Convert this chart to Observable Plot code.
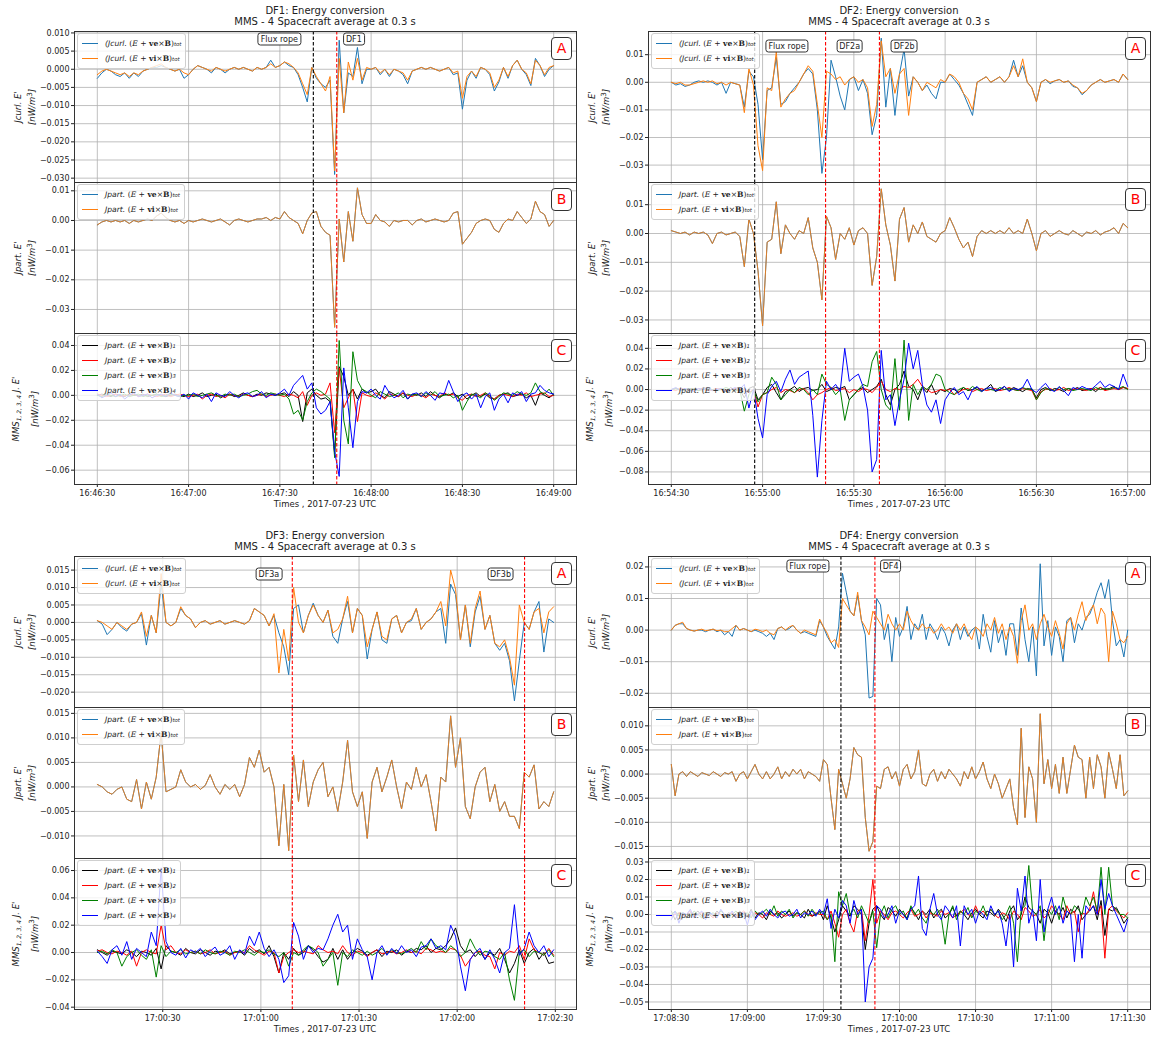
<!DOCTYPE html>
<html><head><meta charset="utf-8">
<script src="https://cdn.jsdelivr.net/npm/d3@7"></script>
<script src="https://cdn.jsdelivr.net/npm/@observablehq/plot@0.6"></script>
<style>
body{margin:0;background:#fff;}
#fig{position:relative;width:1152px;height:1038px;overflow:hidden;font-family:"DejaVu Sans",sans-serif;color:#222;background:#fff;}
.ttl{position:absolute;text-align:center;font-size:10px;line-height:11px;white-space:nowrap;transform:translateX(-50%);}
.xl{position:absolute;font-size:8.5px;transform:translateX(-50%);white-space:nowrap;}
.yl{position:absolute;font-size:8.5px;white-space:nowrap;transform:translate(-50%,-50%) rotate(-90deg);text-align:center;line-height:12px;}
.lg{position:absolute;background:rgba(255,255,255,0.8);border:1px solid #cfcfcf;border-radius:3px;font-size:7.6px;padding:2px 4px 2px 4px;}
.lg .row{display:flex;align-items:center;height:15px;white-space:nowrap;}
.lg .sw{display:inline-block;width:16px;height:1.3px;margin-right:7px;}
.m{font-family:"DejaVu Serif",serif;font-size:7.6px;}
.m b{font-weight:bold;}
.ab{position:absolute;border:1px solid #333;border-radius:4px;color:red;font-size:14px;width:19px;height:21px;line-height:21px;text-align:center;background:#fff;}
.an{position:absolute;border:1px solid #333;border-radius:3px;font-size:8px;padding:0 2px;background:#fff;transform:translate(-50%,-50%);white-space:nowrap;line-height:11px;}
sub{font-size:70%;}
</style></head>
<body><div id="fig"></div>
<script>
// ---------- time axes ----------
const xTicks1 = ["16:46:30","16:47:00","16:47:30","16:48:00","16:48:30","16:49:00"];
const xTicks2 = ["16:54:30","16:55:00","16:55:30","16:56:00","16:56:30","16:57:00"];
const xTicks3 = ["17:00:30","17:01:00","17:01:30","17:02:00","17:02:30"];
const xTicks4 = ["17:08:30","17:09:00","17:09:30","17:10:00","17:10:30","17:11:00","17:11:30"];
const start1 = "16:46:30", start2 = "16:54:30", start3 = "17:00:10", start4 = "17:08:30";
const sampleStep = 1.5; // seconds between stored samples

// ---------- event markers ----------
const ruleTimes1 = ["16:47:41","16:47:48.7"], ruleKinds1 = ["black","red"];
const ruleTimes2 = ["16:54:57.4","16:55:20.7","16:55:38.4"], ruleKinds2 = ["black","red","red"];
const ruleTimes3 = ["17:01:09.6","17:02:20.6"], ruleKinds3 = ["red","red"];
const ruleTimes4 = ["17:09:36.9","17:09:50.3"], ruleKinds4 = ["black","red"];
const annText1 = ["Flux rope","DF1"], annTime1 = ["16:47:30","16:47:54.5"], annY1 = 0.0083;
const annText2 = ["Flux rope","DF2a","DF2b"], annTime2 = ["16:55:08.2","16:55:28.8","16:55:46.7"], annY2 = 0.0129;
const annText3 = ["DF3a","DF3b"], annTime3 = ["17:01:02.6","17:02:13.4"], annY3 = 0.0138;
const annText4 = ["Flux rope","DF4"], annTime4 = ["17:09:24","17:09:56.7"], annY4 = 0.0201;

// ---------- y ticks ----------
const yTicks1A = [-0.030,-0.025,-0.020,-0.015,-0.010,-0.005,0,0.005,0.010];
const yTicks1B = [-0.03,-0.02,-0.01,0,0.01];
const yTicks1C = [-0.06,-0.04,-0.02,0,0.02,0.04];
const yTicks2A = [-0.03,-0.02,-0.01,0,0.01];
const yTicks2B = [-0.03,-0.02,-0.01,0,0.01];
const yTicks2C = [-0.08,-0.06,-0.04,-0.02,0,0.02,0.04];
const yTicks3A = [-0.020,-0.015,-0.010,-0.005,0,0.005,0.010,0.015];
const yTicks3B = [-0.010,-0.005,0,0.005,0.010,0.015];
const yTicks3C = [-0.04,-0.02,0,0.02,0.04,0.06];
const yTicks4A = [-0.02,-0.01,0,0.01,0.02];
const yTicks4B = [-0.015,-0.010,-0.005,0,0.005,0.010];
const yTicks4C = [-0.05,-0.04,-0.03,-0.02,-0.01,0,0.01,0.02,0.03];

// ---------- series values (units of 1e-3 nW/m^3) ----------
// DF1
const dfA1o = [-1.5,-0.5,0,-0.5,-1,-1.5,-1,-2,-1,-1.5, -0.5,0,0.5,1,1.5,0.5,0,-0.5,0,-1, -1.5,0,1,0.5,0,-0.5,0.5,0,-0.5,0, 0.5,0,0.5,0,-0.5,0.5,0,0.5,1.5,0.5, 1,2,1.5,0.5,-1,-4,-7,0.5,-2,-4, -6,-2,-28,3,-12,2,-3,3,-3,0.5, 0,0.5,-1,0,-1.5,0,-0.5,-1,-3,-0.5, 0,0.5,0,0.5,0,-0.5,0,0.5,-1,-0.5, -8,-2,-0.5,-2,0.5,0,-1,-5,-3,0.5, -2,1,2.5,0,-1,-4,2.5,1,-1.5,0.5, 1];
const dfA1b = [-2.5,-1,0,-0.5,-1.5,-2,-1,-2.5,-1,-2, -0.5,0,0.5,0.5,1,0.5,0,-0.5,0,-2.5, -1.5,0,1,0.5,0,-1,0.5,0,-1,0, 0.5,0,0.5,0,-0.5,0.5,0,0.5,2.5,0.5, 1,2,1,0.5,-1.5,-5,-9,0.5,-2.5,-4, -5,-3,-29,8,-12,-1,-2,6,-4,0, 0,0.5,-1.5,0,-2,0,-0.5,-1.5,-4,-0.5, 0,0.5,0,0.5,0,-0.5,0,0.5,-1.5,-1, -11,-3,-0.5,-2.5,0.5,0,-1.5,-6,-3.5,0.5, -2.5,1,2.5,0,-1.5,-4.5,3,1,-2,0, 1];
const dfB1 = [-1.5,-0.5,0,-0.5,0,-0.5,0,-1,0,-0.5, 0,0.5,0,1.5,2.5,1,0,-0.5,0,-1, 0,-0.5,0,0.5,0,-0.5,0,0.5,-0.5,-1.5, 0,0.5,0,-0.5,0,0.5,0.5,1,0,1, 0.5,3,1,0,-1,-4.5,0,2.5,3,-2, -4,-5,-36,0.5,-14,3,-7,11,2,-1, -1,2,0,-0.5,-2,0,-0.5,0,0,-1.5, 0,0.5,-0.5,0,0.5,0,-0.5,0,2.5,3, -8,-6,-4,-1,0,0.5,0,-3,-4,-1, 0.5,0,3,1,-1,0.5,6.5,3,2,-2, 0];
const dfC1k = [0,1,0,-1,1,0,-1,1,0,0, 1,-1,0,1,0,-1,0,1,0,-1, 1,-1,0,2,-1,0,1,-2,0,1, -1,0,2,0,-1,1,0,2,1,0, 1,2,-1,3,0,-21,2,5,0,-3, -2,-5,-47,23,15,0,5,-3,5,2, 3,5,0,-2,3,1,-1,2,-3,1, 0,2,-1,3,0,-2,1,0,2,-1, 1,-3,0,2,-1,1,-2,-3,0,1, 2,-1,0,1,-2,0,-8,2,0,-2, 1];
const dfC1r = [1,0,-1,0,1,-1,0,0,1,-1, 0,1,0,-1,0,1,-1,0,1,0, -1,0,1,-3,0,1,-1,0,-2,1, 0,-1,1,0,-1,0,1,-1,0,1, 0,-1,1,0,-2,3,-8,0,2,0, 1,10,-30,22,-10,-2,5,-21,2,0, -1,2,0,-3,1,0,-1,2,0,-1, 1,0,-2,1,0,-1,2,0,1,-2, -4,0,1,-1,0,2,-1,-3,0,1, 0,-1,1,0,2,-1,0,1,2,-1, 0];
const dfC1g = [0,-1,1,0,-1,0,1,-1,0,1, -1,0,0,1,-1,0,1,0,-1,0, 0,1,-1,0,1,2,0,-1,1,0, 1,-1,0,1,3,4,1,0,2,1, 0,1,-3,-15,-12,-20,-5,2,5,3, 0,-3,-50,44,-20,-39,35,12,5,3, 0,-2,3,1,-1,0,2,-2,1,0, 1,-1,2,0,3,-1,0,1,-2,0, -12,-5,1,0,-2,2,0,-4,-1,2, 1,0,3,1,0,2,10,3,1,5, 0];
const dfC1b = [1,-2,0,2,-1,1,-3,0,2,-1, 0,1,-2,0,1,-1,2,0,-1,1, -3,2,0,-2,1,-5,2,0,-1,3, 0,-2,1,2,-1,0,3,-2,1,0, 2,5,0,8,12,16,5,10,-10,-15, -12,-5,-45,-65,22,-10,-42,-5,3,2, 5,0,-3,8,2,-2,0,4,-3,1, 2,-1,3,0,-4,2,1,12,3,-5, 0,2,-3,1,-10,-1,2,-12,-3,1, -6,2,0,3,-5,1,2,8,4,2, 1];
// DF2
const dfA2o = [0,-0.5,0,-1,-1,-0.5,0,0.5,0,0.5, -0.5,0,-1,0,-0.5,-1,-11,5,-1,-23, -32,-2,-3,11,-9,-6,-4,-3,0,3, 6,4,-8,-20,4,3,1,2,-1,1, 2,0,1,-2,-16,-8,15,2,5,-4, 3,5,-12,2,0,-3,0,-1,-2,1, 0,3,2,0,-4,-6,-10,0,1,2, 0,1,2,0,2,6,2,8.5,0,-2, -7,0,1,0,0.5,1,0,0.5,-1,-2, -4,-3,-1,0,1,0,0.5,1,0,3, 1];
const dfA2b = [0,-1,-0.5,-1.5,-1,0,0.5,0,0.5,0, -1,0,-4,0,-0.5,-1,-9,4,2,-8, -28,-3,-2,9,-8,-7,-4,-2,0,3, 5,3,-10,-33,-20,8,2,-5,-10,1, 2,-3,1,-4,-19,-12,16,-9,5,-12, 3,12,-5,2,0,-3,-1,-4,-6,0, 0,3,1,-1,-4,-8,-12,0,1,2, 0,1,2,0,2,8,2,6,0,-2, -7,0,1,-0.5,0.5,1,0,0.5,-1.5,-2, -4.5,-3,-1,0,1,0,0.5,1,0,3, 1];
const dfB2 = [1,0.5,0,0.5,-0.5,0.5,0,0.5,-0.5,-3.5, 0,0.5,-0.5,0,0.5,-1,-11.5,5,0,-13, -32,-3,-2,11,-7,3,0,-2,1,0, 5.5,-5,-10,-23,6,2,-9,0,-2,2, -4,1,2,0,-18,-8,15.5,3,-4,-16.5, 5,9,-3,3,0,4,-1,-2,-3,0, 1,5.5,2,-2,-5,-3,-8,-1,1,0, 1,0,1,0,2,0,1,0,5,0, -6,0,1,-1,0,1,0,-0.5,1,0, -1,0.5,0,1,-0.5,0.5,1,2,0,3.5, 2];
const dfC2k = [0,1,0,-1,1,0,-1,2,0,-1, 0,1,-2,2,-1,0,-8,1,3,-10, -5,2,5,-3,-10,-2,0,3,-2,1, 2,-1,0,5,-2,0,2,1,3,-10, -5,0,2,-3,0,3,10,-5,-15,0, 5,18,3,0,-10,2,-3,5,-5,0, -2,1,0,-3,2,-1,0,2,-1,1, 5,-2,0,3,-1,2,0,-2,1,0, -8,0,2,-1,1,0,-2,1,0,2, -1,0,1,-2,2,0,1,3,0,2, 1];
const dfC2r = [0,-1,1,0,0,-1,1,0,-1,0, 1,0,-1,0,1,-2,0,-3,0,-17, -5,-3,0,2,-3,0,-1,-3,0,1, -3,-10,-5,-3,0,2,-1,0,1,-3, 0,-2,1,0,-3,2,8,0,-2,1, 0,3,2,5,10,3,0,-3,-2,0, -1,0,-5,-2,0,1,-2,0,1,-1, 0,1,-1,0,2,0,-1,1,0,-1, -10,-2,0,1,-1,0,2,-1,0,1, 0,-1,1,0,2,-1,0,1,0,2, 1];
const dfC2g = [0,1,-1,0,1,0,-1,0,1,0, -1,0,2,0,-1,0,-21,-5,0,-12, -5,-3,12,5,-10,-5,0,-3,2,0, -5,0,-5,15,5,2,-5,0,-30,-10, -5,0,5,3,27,37,0,-15,-20,30, -20,48,-30,5,-5,3,0,5,15,13, 0,-3,-5,0,2,-1,3,0,-2,1, 0,-1,2,0,1,0,-1,2,0,1, -10,-3,1,0,-1,2,0,1,-1,0, 1,0,-1,2,0,1,0,2,1,3, 0];
const dfC2b = [0,2,-1,1,0,-2,1,0,2,-1, 0,1,-2,0,2,0,5,-18,0,-28, -47,-5,3,8,-2,10,19,5,12,15, 18,-25,-85,-30,8,0,5,-2,40,8, 12,15,3,-20,-80,-68,38,-10,-5,-35, -10,10,45,20,38,5,-15,-22,-10,-33, -10,-3,2,-5,-2,-10,0,3,-2,1, 2,-1,0,3,-2,1,0,2,10,0, -3,2,6,0,-2,3,-1,-6,2,0, 3,1,0,4,8,2,5,3,0,15, 3];
// DF3
const dfA3o = [0.5,0,-1,-2,0,-1,-2,-0.5,0,3, -4,2,-3,14,0,-1,0,4.5,2,1, -1.5,0,0.5,-0.5,0,0.5,-0.5,0,0.5,0, -0.5,0.5,4,3,2,-1,2.5,-14.5,-2,-11, 10,0,-3,2,5,2,0,3.5,-3,-2, 1,7.5,-3,4,2,-7,-2,3,-4,-5, 1,2,-3,0,1,4,-2,0,1,3, 6,-1,15,9.5,-5,5,-6,4,9,-2, 2,-6,-7,-5,-10,-18,5,0,-2,3, 4,-3,3,4.5];
const dfA3b = [0.5,-0.5,-3.5,-2,0,-1.5,-2.5,-0.5,0,2.5, -6.5,2,-3,11,0,-1,0,4,2,1, -1.5,0,0.5,-0.5,0,0.5,-0.5,0,0.5,0, -0.5,0.5,4,3,2,-1,2,-3,-7,-15, 4,5,-3,2,5.5,2,0,3.5,-4,-6, 1,6,-3,4,2,-10.5,-2,3,-5,-6, 1,2,-3,0,0.5,4,-2,0,1,3, 4,-6,11,8,-5,5,-7,3,7.5,-2, 2,-6,-8,-6,-11,-22.5,-11,0,-2,3, 6,-8.5,1,0];
const dfB3 = [0.5,0,-1,-1.5,-0.5,0,-2.5,-3,1.5,-4.5, 1,-2.5,2,11,-1,-0.5,0,3.5,1,0, 0.5,-0.5,0.3,2.5,0,-1.5,0.5,-0.5,0.5,-2, 0.5,6,4,7.5,3,4,0,-12,0.5,-13, 6.5,-3,5.5,-4,1,3.5,5,-2,0,-5, 1,9.5,-1,-4,-1,-10.5,1,4,-1,2, 5.5,0,-4.5,1,-0.5,4,0,2.5,-3,-9, 2,1,14.5,4,10,-4,-6.5,0,3,4, -3,0.5,-5,-3,-6,-6,-8.5,3,2,4.5, -4.5,-3,-4,-1];
const dfC3k = [2,0,-2,1,0,-1,2,0,-3,1, 0,-2,3,-12,5,1,0,-2,3,0, -1,2,0,-2,1,0,2,-1,0,1, -2,3,0,2,-1,5,-3,-15,0,-5, 3,-2,0,5,2,-3,-7,-5,3,-5, 2,-5,0,3,1,-2,0,2,-3,1, 0,2,-2,1,0,3,2,5,0,3, 2,5,10,18,5,0,2,-3,1,-5, 0,-2,3,-5,-15,-8,2,-8,0,3, -5,0,-8,-7];
const dfC3r = [1,2,0,-1,1,0,-2,1,-10,0, 2,0,-1,20,2,5,0,-1,2,0, 1,-1,0,2,-1,0,1,-2,0,1, 0,5,2,0,-2,1,0,-15,-3,0, 2,0,1,0,-1,5,2,0,1,-1, 5,0,-2,1,0,-3,0,2,-1,0, 1,-1,0,2,0,1,-1,3,2,0, 1,0,3,2,-2,-10,-5,0,1,-2, -3,-12,0,-2,1,0,5,-5,10,2, 0,-2,3,-2];
const dfC3g = [0,1,-1,2,0,-10,-3,0,2,-2, -5,2,-18,5,-3,1,0,2,-1,0, 1,-1,2,0,-1,1,0,-2,1,0, 2,0,-2,1,0,2,-1,-3,0,-10, 0,-2,2,5,3,0,-10,-5,0,-24, 0,-3,2,0,-2,1,-2,0,3,-1, 2,0,-1,1,3,0,8,2,10,5, 3,0,5,2,-3,0,10,3,-2,1, 0,-3,-5,0,-20,-35,0,2,-3,1, 0,-2,2,-3];
const dfC3b = [1,-3,-8,2,5,-2,8,-5,3,0, -3,15,5,62,8,0,-2,3,-4,2, 0,3,-3,1,4,-2,0,5,-5,2, -1,12,5,15,3,-3,2,-5,-22,-17, 22,12,-5,5,0,3,2,10,20,28, 15,20,-5,10,2,-3,-20,0,5,-2, 3,-1,5,0,2,-3,4,5,10,3, 5,2,20,12,-10,-28,-5,0,3,-5, 2,-5,-15,0,3,35,-2,3,15,5, 0,5,-3,2];
// DF4
const dfA4o = [0,1.5,2,2.5,0.5,0,-0.3,0,0.3,-0.2, 0,0.3,-0.2,0,-0.5,-0.5,0.5,1.5,0,0.5, 0,-0.5,0.3,0,-0.5,0,-1,-1.5,0.5,1, 0,1,1.5,0,-1,0,-0.5,-1,-1.5,3.5, 1,-1,-4,-3,-5.5,10,8,6,4.5,12, 3,1,-1.5,6,4,2,0,5,2,0, 2,0,6,3,1,0,2,0.5,1,-1, 0,2,0,1,-1,2,0,2,-1,-3, 1,0,-2,2,0,4,-1,2,-3,1, -2,-10.5,3,8,0,2,-3,2,5,1, -2,3,-1,-6,2,4,0,5,9,3, 6,8,2,7,5,-10,6,2,-3,-4, -2];
const dfA4b = [0,1.5,2,2,0.5,0,-0.3,0,0,-0.5, 0,0.3,-0.5,0,-1.5,-0.5,-2,1.5,0,0.5, 0,-0.5,0,-0.5,-1,-2,-1,-3,0.5,1, 0,0.5,1.5,0,-1,-0.5,-1,-1.5,-2,3, 1,-2,-4,-6,1,18,12,6,4.5,11, 3,-1.5,-21.5,-21,10,8,-3,2,-10,4, -2,1,7.5,-3,2,0,5,-3,2,0, -3,1,-1,-5,0,2,-3,1,-2,0, 1,-6,5,-2,-7,3,-4,0,-8,2, 2,-8,7,-3,-10,1,-14.5,21,-5,3, -8,1,-2,-10,3,4,-4,2,0,4, 5,8,12,15,10,16,3,-5,-3,-8.5, 0];
const dfB4 = [2,-4.5,0,0.5,-0.5,0.5,0,-0.5,0.3,0, -0.3,0.5,0,-0.5,0.3,0,0.5,-1.5,0,0.5, -1,0.5,2,0,-1,0.5,-1,0,1.5,-1, 0.5,-0.5,1,0,1,-1,0.5,0,-0.5,-1.5, 3,2,-5,-11.5,1,-2,-5,-1,5.5,4, 3.5,-9,-16,-14,-2.5,-3,1,1.5,-1,0.5, -2.5,1,2,-1,0.5,5,-2,-2.5,0,1, -1.5,0.5,-1,1,0,-1,-2.5,0.5,-1,1.5, -1,0.5,2.5,-1,-3,0,-2,-5,-3,-1, -7,-10.5,9.5,-9,1.5,-1,-10,12.5,-2,3, -3,2,-4,3.5,-4,1,6,3.5,3,-5, 3.5,-3,4,1.5,-5,4.5,1,-3,4,-4.5, -3.5];
const dfC4k = [2,-3,1,0,-2,1,0,2,-1,0, 1,-1,2,0,-2,1,0,-1,2,0, -1,3,-2,1,0,-3,2,0,1,-2, 0,2,-1,1,0,-2,3,-1,0,2, -3,5,-2,-10,-3,5,2,-1,5,3, 0,-20,-5,3,5,0,-3,4,2,-1, 3,0,-2,4,1,-3,2,0,3,-2, 1,3,-2,0,4,-1,2,0,-3,1, 3,0,-2,2,1,-1,3,0,-4,2, 5,-3,0,10,4,2,0,-5,3,1, -5,2,0,4,-2,3,1,5,-3,0, 2,5,-3,8,-12,3,2,4,0,-5, -2];
const dfC4r = [-1,0,1,-1,0,2,-1,0,1,-1, 0,-2,1,0,-1,0,1,-1,0,2, 0,-1,1,0,-2,1,0,-1,2,0, -1,0,1,-1,0,2,0,-1,1,0, 0,-3,2,-5,-13,0,3,-5,-10,2, 3,-15,0,20,-5,2,0,-3,1,2, 0,-2,1,3,-1,0,2,-2,1,0, -1,2,0,1,-2,0,1,3,0,-1, 5,0,2,-1,3,0,-2,1,0,-3, 2,0,-3,4,2,-1,0,3,-2,0, 5,2,0,-3,5,0,2,-10,1,0, 3,13,0,5,-25,3,5,2,0,-2, 1];
const dfC4g = [0,2,-1,1,0,-1,2,0,-2,1, 0,1,-1,2,0,-1,0,2,-1,0, 1,-2,2,0,1,3,0,5,-1,2, 0,3,-2,1,0,2,-1,3,0,1, 2,-3,0,-27,13,5,12,0,3,-2, 5,0,-5,2,-19,0,5,-2,3,5, 0,2,-3,5,0,3,-2,-5,2,0, 3,-2,-17,0,5,-3,2,0,4,-2, 2,0,5,-1,3,0,2,-3,0,5, -5,-27,3,5,28,2,0,5,-15,3, 0,5,-3,10,2,0,5,3,0,10, 5,10,2,27,0,27,5,3,0,0, -2];
const dfC4b = [-3,2,-5,1,0,3,-2,0,2,-3, 1,0,-2,3,0,-1,2,-2,0,1, -6,2,-3,0,2,-1,3,0,-2,1, 2,-1,0,3,-2,1,0,2,-1,3, 0,9,-8,3,-2,8,5,-5,8,0, 3,-50,-30,-25,5,3,-2,0,5,-5, 2,0,-3,3,5,22,-8,-12,3,12, 0,-3,5,2,-2,5,-18,5,0,3, -5,2,0,-3,5,0,2,-5,-18,0, -30,15,2,22,-5,3,-15,20,-10,3, 10,0,5,-5,2,0,-27,0,-25,5, 2,5,0,20,3,12,5,0,-5,-10, -3];

// ---------- legend labels ----------
const legendPrefixA = "(Jcurl.", legendPrefixBC = "Jpart.";
const legendSpeciesA = ["ve","vi"], legendSpeciesB = ["ve","vi"], legendSpeciesC = ["ve","ve","ve","ve"];
const legendSubA = ["tot","tot"], legendSubB = ["tot","tot"], legendSubC = ["1","2","3","4"];
const titles = ["DF1: Energy conversion","DF2: Energy conversion","DF3: Energy conversion","DF4: Energy conversion"];
const subtitle = "MMS - 4 Spacecraft average at 0.3 s";
const xLabelText = "Times , 2017-07-23 UTC";

// ---------- styling ----------
const C_BLUE = "#1f77b4", C_ORANGE = "#ff7f0e";
const C4 = ["#000000","#ff0000","#008000","#0000ff"];

const toSec = s => { const p = s.split(":"); return +p[0]*3600 + +p[1]*60 + +p[2]; };
const secLabel = s => { const r = Math.round(s); return [Math.floor(r/3600), Math.floor(r%3600/60), r%60].map(v => String(v).padStart(2,"0")).join(":"); };

function panel(i, start, xTicks, ruleTimes, ruleKinds, annText, annTime, annY, A, B, C) {
  return {title: titles[i], row: Math.floor(i/2), col: i%2, start, xTicks, ruleTimes, ruleKinds, annText, annTime, annY, subs: [A, B, C]};
}
const panels = [
  panel(0, start1, xTicks1, ruleTimes1, ruleKinds1, annText1, annTime1, annY1,
    {lines:[[dfA1b,C_BLUE],[dfA1o,C_ORANGE]], dom:[-0.0312,0.0104], ticks:yTicks1A, fmt:".3f"},
    {lines:[[dfB1,C_BLUE],[dfB1,C_ORANGE,0.85]], dom:[-0.0381,0.0128], ticks:yTicks1B, fmt:".2f"},
    {lines:[[dfC1k,C4[0]],[dfC1r,C4[1]],[dfC1g,C4[2]],[dfC1b,C4[3]]], dom:[-0.0715,0.0496], ticks:yTicks1C, fmt:".2f"}),
  panel(1, start2, xTicks2, ruleTimes2, ruleKinds2, annText2, annTime2, annY2,
    {lines:[[dfA2b,C_BLUE],[dfA2o,C_ORANGE]], dom:[-0.0363,0.0184], ticks:yTicks2A, fmt:".2f"},
    {lines:[[dfB2,C_BLUE],[dfB2,C_ORANGE,0.85]], dom:[-0.0347,0.0177], ticks:yTicks2B, fmt:".2f"},
    {lines:[[dfC2k,C4[0]],[dfC2r,C4[1]],[dfC2g,C4[2]],[dfC2b,C4[3]]], dom:[-0.0922,0.0544], ticks:yTicks2C, fmt:".2f"}),
  panel(2, start3, xTicks3, ruleTimes3, ruleKinds3, annText3, annTime3, annY3,
    {lines:[[dfA3b,C_BLUE],[dfA3o,C_ORANGE]], dom:[-0.0244,0.0189], ticks:yTicks3A, fmt:".3f"},
    {lines:[[dfB3,C_BLUE],[dfB3,C_ORANGE,0.85]], dom:[-0.0146,0.0162], ticks:yTicks3B, fmt:".3f"},
    {lines:[[dfC3k,C4[0]],[dfC3r,C4[1]],[dfC3g,C4[2]],[dfC3b,C4[3]]], dom:[-0.0417,0.0688], ticks:yTicks3C, fmt:".2f"}),
  panel(3, start4, xTicks4, ruleTimes4, ruleKinds4, annText4, annTime4, annY4,
    {lines:[[dfA4b,C_BLUE],[dfA4o,C_ORANGE]], dom:[-0.0245,0.0233], ticks:yTicks4A, fmt:".2f"},
    {lines:[[dfB4,C_BLUE],[dfB4,C_ORANGE,0.85]], dom:[-0.0175,0.0138], ticks:yTicks4B, fmt:".3f"},
    {lines:[[dfC4k,C4[0]],[dfC4r,C4[1]],[dfC4g,C4[2]],[dfC4b,C4[3]]], dom:[-0.0543,0.032], ticks:yTicks4C, fmt:".2f"})
];

const fig = document.getElementById("fig");
const COLX = [{svgLeft:0, mL:74}, {svgLeft:572, mL:76}];
const FW = 502, SH = 151, SVGW = 580, ROWH = 525, FTOP = 31;
const LETTERS = ["A","B","C"];

function div(cls, html, left, top) {
  const d = document.createElement("div");
  d.className = cls; d.innerHTML = html;
  d.style.left = left + "px"; d.style.top = top + "px";
  fig.appendChild(d); return d;
}
function mathLabel(prefix, sp, sub) {
  return `<i>${prefix}</i>&nbsp;<span class="m">(<i>E</i> + <b>${sp}</b>×<b>B</b>)</span><sub><i>${sub}</i></sub>`;
}

panels.forEach(p => {
  const s0 = toSec(p.start);
  const n = p.subs[0].lines[0][0].length;
  const s1 = s0 + (n - 1) * sampleStep;
  const pad = 0.05 * (s1 - s0);
  const xDom = [s0 - pad, s1 + pad];
  const xT = p.xTicks.map(toSec);
  const rowTop = p.row * ROWH;
  const svgLeft = COLX[p.col].svgLeft, mL = COLX[p.col].mL;
  const frameLeft = svgLeft + mL;
  const rules = p.ruleTimes.map((t, j) => ({s: toSec(t), c: p.ruleKinds[j]}));

  div("ttl", p.title + "<br>" + subtitle, frameLeft + FW/2, rowTop + 5);

  p.subs.forEach((sb, k) => {
    const frameTop = rowTop + FTOP + k * SH;
    const isC = k === 2;
    const mT = 4, mB = isC ? 30 : 4;
    const grid = {stroke: "#b0b0b0", strokeOpacity: 1, strokeWidth: 0.8};
    const marks = [
      Plot.gridX(xT, grid),
      Plot.gridY(sb.ticks, grid),
      Plot.axisY(sb.ticks, {tickFormat: d3.format(sb.fmt), tickSize: 3, tickPadding: 2, label: null})
    ];
    if (isC) marks.push(Plot.axisX(xT, {tickFormat: secLabel, tickSize: 3, tickPadding: 3, label: null}));
    sb.lines.forEach(([vals, color, op]) => {
      marks.push(Plot.line(vals, {x: (d, i) => s0 + i * sampleStep, y: d => d * 1e-3, stroke: color, strokeWidth: 1, strokeOpacity: op || 1}));
    });
    ["black", "red"].forEach(c => {
      marks.push(Plot.ruleX(rules.filter(r => r.c === c), {x: "s", stroke: c, strokeWidth: 1.1, strokeDasharray: "3.5,2"}));
    });
    marks.push(Plot.frame({stroke: "#333", strokeWidth: 1}));
    const plot = Plot.plot({
      width: SVGW, height: SH + mT + mB,
      marginLeft: mL, marginRight: SVGW - mL - FW, marginTop: mT, marginBottom: mB,
      x: {domain: xDom, axis: null},
      y: {domain: sb.dom, axis: null},
      style: {background: "transparent", fontFamily: "DejaVu Sans", fontSize: "8px", color: "#222", overflow: "visible"},
      marks
    });
    plot.style.position = "absolute";
    plot.style.left = svgLeft + "px";
    plot.style.top = (frameTop - mT) + "px";
    fig.appendChild(plot);

    // legend
    let items;
    if (k === 0) items = legendSpeciesA.map((sp, j) => [j ? C_ORANGE : C_BLUE, mathLabel(legendPrefixA, sp, legendSubA[j])]);
    else if (k === 1) items = legendSpeciesB.map((sp, j) => [j ? C_ORANGE : C_BLUE, mathLabel(legendPrefixBC, sp, legendSubB[j])]);
    else items = legendSpeciesC.map((sp, j) => [C4[j], mathLabel(legendPrefixBC, sp, legendSubC[j])]);
    div("lg", items.map(([c, h]) => `<div class="row"><span class="sw" style="background:${c}"></span>${h}</div>`).join(""), frameLeft + 3, frameTop + 2);

    // panel letter
    div("ab", LETTERS[k], frameLeft + FW - 25, frameTop + 6);

    // y label
    const yl = k === 0 ? "<i>Jcurl. E'</i>" : k === 1 ? "<i>Jpart. E'</i>" : "<i>MMS</i><sub><i>1, 2, 3, 4</i></sub> <i>J. E'</i>";
    div("yl", yl + "<br><i>[nW/m</i><sup>3</sup><i>]</i>", frameLeft - 49, frameTop + SH/2);

    // annotations
    if (k === 0) {
      const sx = plot.scale("x"), sy = plot.scale("y");
      p.annText.forEach((t, j) => {
        div("an", t, svgLeft + sx.apply(toSec(p.annTime[j])), frameTop - mT + sy.apply(p.annY));
      });
    }
  });
  div("xl", xLabelText, frameLeft + FW/2, rowTop + FTOP + 3*SH + 15);
});
</script>
</body></html>
